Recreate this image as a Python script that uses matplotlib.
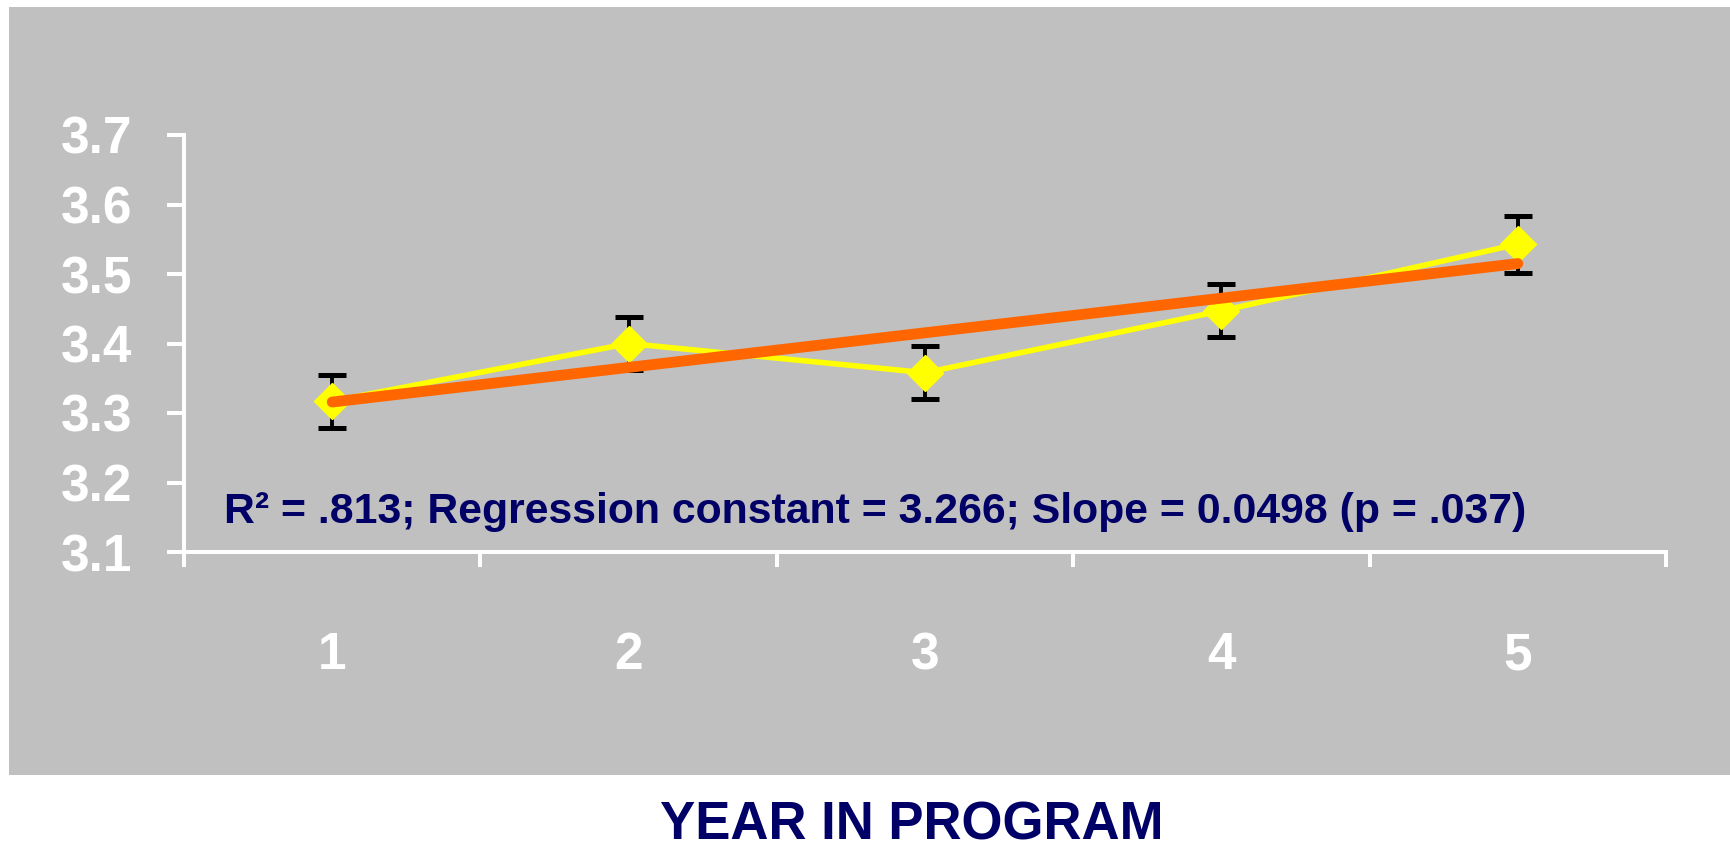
import numpy as np
import matplotlib
matplotlib.use("Agg")
import matplotlib.pyplot as plt
from matplotlib import font_manager
from matplotlib.patches import Rectangle

# data
years = [1, 2, 3, 4, 5]
year_labels = ["1", "2", "3", "4", "5"]
means = [3.317, 3.400, 3.358, 3.447, 3.543]
errs = [0.038, 0.038, 0.038, 0.038, 0.041]
y_ticks = [3.1, 3.2, 3.3, 3.4, 3.5, 3.6, 3.7]

# regression reported on the chart
r2 = 0.813
const = 3.266
slope = 0.0498
p_val = 0.037

navy = "#000066"
gray = "#C0C0C0"

# narrow font for tick labels if there is one
try:
    font_manager.findfont("Liberation Sans Narrow", fallback_to_default=False)
    tick_font = "Liberation Sans Narrow"
    tick_size = 40
except Exception:
    tick_font = "Liberation Sans"
    tick_size = 37

W, H = 1730, 851
fig = plt.figure(figsize=(W / 100, H / 100), dpi=100)
fig.patch.set_facecolor("white")
fig.patches.append(Rectangle((9 / W, (H - 775) / H), 1 - 9 / W, (775 - 7) / H,
                             transform=fig.transFigure, facecolor=gray,
                             edgecolor="none", zorder=-5))

ax = fig.add_axes([184 / W, (H - 552) / H, (1666 - 184) / W, (552 - 135) / H])
ax.set_facecolor("none")
ax.set_zorder(2)

ax.errorbar(years, means, yerr=errs, fmt="none", ecolor="black",
            elinewidth=2.8, capsize=10, capthick=3.6, zorder=2)
ax.plot(years, means, color="#FFFF00", lw=4, marker="D", ms=18,
        mec="#FFFF00", mfc="#FFFF00", zorder=3)
x_fit = np.array([years[0], years[-1]])
ax.plot(x_fit, const + slope * x_fit, color="#FF6600", lw=7.8,
        solid_capstyle="round", zorder=4)

ax.set_xlim(0.5, 5.5)
ax.set_ylim(3.1, 3.7)

for s in ["top", "right"]:
    ax.spines[s].set_visible(False)
for s in ["left", "bottom"]:
    ax.spines[s].set_color("white")
    ax.spines[s].set_linewidth(2.9)

ax.set_yticks(y_ticks)
ax.set_yticklabels(["%.1f" % v for v in y_ticks])
ax.tick_params(axis="y", direction="out", length=12.2, width=2.9,
               color="white", pad=25, labelcolor="white")

ax.set_xticks(np.arange(0.5, 6.0, 1.0))
ax.set_xticklabels([])
ax.set_xticks(years, minor=True)
ax.set_xticklabels(year_labels, minor=True)
ax.tick_params(axis="x", which="major", direction="out", length=10.8,
               width=2.9, color="white")
ax.tick_params(axis="x", which="minor", length=0, pad=57, labelcolor="white")

for lab in ax.get_yticklabels() + ax.get_xticklabels(minor=True):
    lab.set_family(tick_font)
    lab.set_fontweight("bold")
    lab.set_fontsize(tick_size)

note = "R\u00b2 = %s; Regression constant = %.3f; Slope = %.4f (p = %s)" % (
    ("%.3f" % r2)[1:], const, slope, ("%.3f" % p_val)[1:])
ax.text(0.027, 0.0695, note, transform=ax.transAxes, ha="left", va="baseline",
        color=navy, fontsize=30.8, fontweight="bold", family="Liberation Sans")

fig.text(912 / W, (H - 840) / H, "YEAR IN PROGRAM", ha="center", va="baseline",
         color=navy, fontsize=38, fontweight="bold", family="Liberation Sans")

fig.savefig("out.png", dpi=100)
